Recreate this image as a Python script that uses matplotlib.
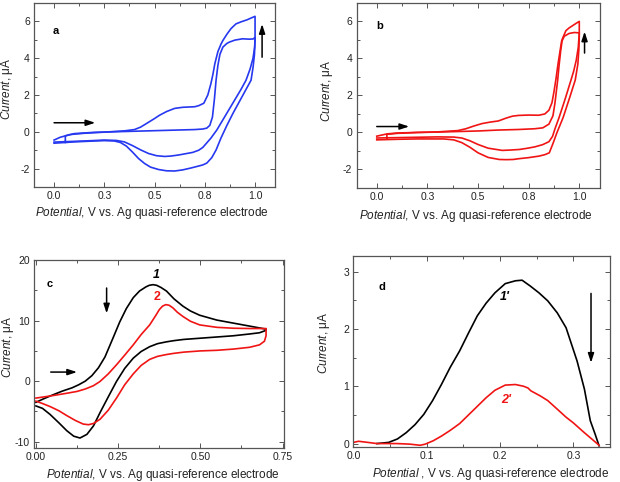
import numpy as np
import matplotlib
matplotlib.use("Agg")
import matplotlib.pyplot as plt
from matplotlib.ticker import MultipleLocator, FixedLocator, FixedFormatter

plt.rcParams['font.family'] = ['Liberation Sans', 'DejaVu Sans']
plt.rcParams['mathtext.fontset'] = 'custom'
plt.rcParams['mathtext.rm'] = 'Liberation Sans'
plt.rcParams['mathtext.it'] = 'Liberation Sans:italic'
plt.rcParams['mathtext.bf'] = 'Liberation Sans:bold'
plt.rcParams['axes.unicode_minus'] = False

# ---- panel a (blue CV, two cycles) ----
a1_v = [0.0, 0.03, 0.08, 0.15, 0.25, 0.35, 0.4, 0.43, 0.46, 0.5, 0.525, 0.56, 0.6, 0.64, 0.7, 0.72,
        0.745, 0.765, 0.78, 0.79, 0.80, 0.815, 0.83, 0.84, 0.86, 0.88, 0.905, 0.93, 0.96, 0.985, 1.0,
        1.0, 0.997, 0.99, 0.98, 0.95, 0.92, 0.89, 0.86, 0.83, 0.806, 0.785, 0.76, 0.74, 0.723, 0.68,
        0.64, 0.6, 0.56, 0.52, 0.48, 0.45, 0.42, 0.39, 0.36, 0.33, 0.3, 0.25, 0.2, 0.1, 0.0]
a1_i = [-0.45, -0.3, -0.15, -0.08, -0.02, 0.05, 0.12, 0.25, 0.45, 0.72, 0.9, 1.1, 1.27, 1.33, 1.36, 1.42,
        1.55, 2.0, 2.6, 3.1, 3.7, 4.35, 4.75, 4.96, 5.3, 5.6, 5.86, 5.97, 6.08, 6.2, 6.27,
        5.0, 4.2, 3.5, 2.8, 2.2, 1.6, 1.0, 0.35, -0.35, -0.99, -1.4, -1.7, -1.8, -1.85, -1.97,
        -2.07, -2.13, -2.12, -2.05, -1.92, -1.72, -1.45, -1.1, -0.78, -0.58, -0.5, -0.48, -0.5, -0.55, -0.62]
a2_v = [0.056, 0.056, 0.1, 0.2, 0.3, 0.4, 0.5, 0.6, 0.7, 0.74, 0.76, 0.775, 0.788, 0.798, 0.806, 0.815,
        0.825, 0.84, 0.86, 0.872, 0.9, 0.938, 0.97, 0.99, 1.0,
        0.998, 0.99, 0.975, 0.955, 0.93, 0.9, 0.87, 0.84, 0.81, 0.78, 0.76, 0.74, 0.72, 0.69, 0.65,
        0.62, 0.58, 0.55, 0.51, 0.47, 0.43, 0.39, 0.35, 0.31, 0.25, 0.15, 0.0]
a2_i = [-0.58, -0.22, -0.1, -0.03, 0.0, 0.03, 0.06, 0.09, 0.12, 0.15, 0.2, 0.35, 0.8, 1.8, 2.8, 3.6,
        4.2, 4.6, 4.8, 4.87, 4.98, 5.05, 5.03, 5.04, 5.12,
        4.6, 4.0, 3.4, 2.8, 2.3, 1.75, 1.2, 0.65, 0.1, -0.35, -0.6, -0.85, -1.0, -1.12, -1.2,
        -1.26, -1.32, -1.34, -1.3, -1.18, -0.98, -0.75, -0.55, -0.47, -0.45, -0.5, -0.56]

# ---- panel b (red CV, two cycles) ----
b1_v = [0.0, 0.05, 0.1, 0.2, 0.3, 0.4, 0.44, 0.48, 0.52, 0.56, 0.6, 0.64, 0.67, 0.7, 0.75, 0.8,
        0.83, 0.85, 0.865, 0.875, 0.885, 0.895, 0.905, 0.913, 0.92, 0.934, 0.95, 0.967, 0.985, 1.0,
        1.0, 0.998, 0.993, 0.98, 0.95, 0.92, 0.89, 0.87, 0.852, 0.83, 0.8, 0.75, 0.7, 0.674, 0.64,
        0.605, 0.55, 0.5, 0.46, 0.42, 0.38, 0.33, 0.2, 0.1, 0.0]
b1_i = [-0.2, -0.08, -0.03, 0.0, 0.03, 0.1, 0.2, 0.35, 0.48, 0.56, 0.62, 0.78, 0.88, 0.92, 0.94, 0.93,
        1.0, 1.2, 1.6, 2.2, 2.9, 3.7, 4.4, 4.95, 5.15, 5.5, 5.65, 5.77, 5.9, 6.0,
        5.2, 4.5, 3.7, 2.83, 1.8, 0.8, 0.0, -0.6, -1.1, -1.2, -1.28, -1.36, -1.42, -1.46, -1.47,
        -1.46, -1.35, -1.1, -0.8, -0.55, -0.4, -0.35, -0.35, -0.37, -0.4]
b2_v = [0.05, 0.05, 0.1, 0.2, 0.3, 0.4, 0.5, 0.6, 0.7, 0.78, 0.82, 0.85, 0.87, 0.88, 0.893, 0.9,
        0.908, 0.915, 0.926, 0.95, 0.975, 1.0,
        0.995, 0.985, 0.972, 0.959, 0.93, 0.9, 0.88, 0.868, 0.85, 0.819, 0.78, 0.74, 0.704, 0.66,
        0.62, 0.55, 0.5, 0.46, 0.42, 0.38, 0.3, 0.2, 0.1, 0.0]
b2_i = [-0.32, -0.1, -0.05, 0.0, 0.02, 0.05, 0.08, 0.13, 0.16, 0.2, 0.25, 0.45, 0.9, 1.6, 2.8, 3.6,
        4.4, 4.95, 5.2, 5.35, 5.4, 5.38,
        4.6, 3.9, 3.3, 2.83, 1.8, 0.8, 0.2, -0.21, -0.5, -0.66, -0.78, -0.86, -0.92, -0.95,
        -0.97, -0.85, -0.65, -0.45, -0.3, -0.25, -0.24, -0.26, -0.28, -0.3]

# ---- panel c (CV, curve 1 black, curve 2 red) ----
c1_v = [0.0, 0.02, 0.05, 0.08, 0.11, 0.13, 0.15, 0.17, 0.19, 0.21, 0.235, 0.255, 0.275, 0.296, 0.315,
        0.335, 0.345, 0.356, 0.367, 0.38, 0.397, 0.42, 0.447, 0.47, 0.498, 0.55, 0.6, 0.65, 0.7,
        0.7, 0.68, 0.65, 0.6, 0.55, 0.5, 0.45, 0.42, 0.397, 0.37, 0.346, 0.32, 0.296, 0.27, 0.245,
        0.22, 0.195, 0.175, 0.155, 0.134, 0.115, 0.094, 0.07, 0.043, 0.02, 0.0]
c1_i = [-3.5, -3.0, -2.3, -1.65, -1.1, -0.6, 0.0, 0.9, 2.2, 4.0, 7.2, 9.8, 12.0, 13.8, 14.9,
        15.6, 15.85, 15.95, 15.85, 15.5, 14.9, 13.6, 12.4, 11.6, 10.9, 10.1, 9.6, 9.1, 8.6,
        8.4, 8.0, 7.8, 7.5, 7.3, 7.1, 6.9, 6.7, 6.5, 6.2, 5.7, 4.9, 3.8, 2.1, -0.05,
        -2.6, -5.2, -7.4, -8.8, -9.4, -9.1, -8.2, -6.9, -5.5, -4.5, -4.1]
c2_v = [0.0, 0.05, 0.094, 0.125, 0.15, 0.175, 0.195, 0.22, 0.245, 0.27, 0.296, 0.32, 0.346, 0.365,
        0.375, 0.385, 0.395, 0.405, 0.417, 0.43, 0.447, 0.47, 0.498, 0.55, 0.6, 0.65, 0.7,
        0.7, 0.695, 0.68, 0.65, 0.6, 0.55, 0.5, 0.45, 0.42, 0.397, 0.37, 0.346, 0.32, 0.296, 0.27,
        0.245, 0.22, 0.195, 0.175, 0.16, 0.144, 0.12, 0.094, 0.07, 0.043, 0.02, 0.0]
c2_i = [-2.8, -2.4, -2.0, -1.7, -1.3, -0.75, -0.05, 1.2, 2.7, 4.3, 6.0, 7.7, 9.3, 10.9,
        11.8, 12.4, 12.65, 12.55, 12.1, 11.4, 10.7, 9.9, 9.3, 8.9, 8.75, 8.7, 8.7,
        7.5, 6.6, 6.0, 5.6, 5.3, 5.1, 5.0, 4.8, 4.6, 4.4, 4.1, 3.6, 2.6, 1.2, -0.6,
        -2.8, -4.8, -6.3, -7.0, -7.2, -7.1, -6.5, -5.7, -4.9, -4.2, -3.7, -3.3]

# ---- panel d (difference curves 1' and 2') ----
d1_v = [0.032, 0.048, 0.06, 0.072, 0.084, 0.096, 0.108, 0.120, 0.132, 0.145, 0.157, 0.169, 0.181,
        0.193, 0.207, 0.221, 0.230, 0.241, 0.253, 0.265, 0.278, 0.290, 0.305, 0.315, 0.323, 0.330, 0.335]
d1_i = [0.0, 0.02, 0.08, 0.19, 0.33, 0.51, 0.75, 1.03, 1.33, 1.62, 1.93, 2.23, 2.45,
        2.63, 2.79, 2.84, 2.85, 2.75, 2.63, 2.49, 2.28, 2.02, 1.44, 0.95, 0.40, 0.15, -0.04]
d2_v = [0.0, 0.007, 0.02, 0.032, 0.045, 0.059, 0.077, 0.091, 0.098, 0.109, 0.120, 0.132, 0.145, 0.157,
        0.169, 0.181, 0.193, 0.207, 0.221, 0.232, 0.238, 0.242, 0.255, 0.265, 0.278, 0.290, 0.300,
        0.314, 0.325, 0.335]
d2_i = [0.02, 0.04, 0.02, 0.0, 0.0, 0.0, -0.01, -0.03, -0.01, 0.05, 0.13, 0.23, 0.35, 0.5,
        0.65, 0.8, 0.93, 1.02, 1.03, 1.0, 0.97, 0.92, 0.83, 0.75, 0.6, 0.46, 0.36,
        0.2, 0.08, -0.03]

BLUE = '#2638f0'
RED = '#f01414'
SPINE = '#555555'

fig = plt.figure(figsize=(6.2, 4.82), dpi=100)
ax_a = fig.add_axes([0.0548, 0.612, 0.389, 0.382])
ax_b = fig.add_axes([0.575, 0.610, 0.392, 0.384])
ax_c = fig.add_axes([0.0553, 0.0712, 0.403, 0.389])
ax_d = fig.add_axes([0.570, 0.0726, 0.414, 0.396])


def style(ax):
    for s in ax.spines.values():
        s.set_color(SPINE)
        s.set_linewidth(0.9)
    ax.tick_params(which='both', direction='in', top=True, right=True, colors=SPINE,
                   labelcolor='#222222', labelsize=7.5, width=0.7)
    ax.tick_params(which='major', length=3.5, pad=3)
    ax.tick_params(which='minor', length=2)


arrow = dict(arrowstyle='-|>,head_length=0.55,head_width=0.18', color='black', lw=1.1,
             shrinkA=0, shrinkB=0)
ylab = r'$\mathit{Current}$, μA'
xlab = r'$\mathit{Potential}$, V vs. Ag quasi-reference electrode'

# a
ax_a.plot(a1_v, a1_i, color=BLUE, lw=1.2)
ax_a.plot(a2_v, a2_i, color=BLUE, lw=1.2)
ax_a.set_xlim(-0.1, 1.1)
ax_a.set_ylim(-3, 7)
ax_a.set_yticks([-2, 0, 2, 4, 6])
ax_a.yaxis.set_minor_locator(MultipleLocator(1))
ax_a.xaxis.set_major_locator(FixedLocator([0, 0.25, 0.5, 0.75, 1.0]))
ax_a.xaxis.set_major_formatter(FixedFormatter(['0.0', '0.3', '0.5', '0.8', '1.0']))
ax_a.xaxis.set_minor_locator(MultipleLocator(0.125))
ax_a.annotate('', xy=(0.205, 0.49), xytext=(0.0, 0.49), arrowprops=arrow)
ax_a.annotate('', xy=(1.035, 5.85), xytext=(1.035, 4.05), arrowprops=arrow)
ax_a.text(-0.005, 5.45, 'a', fontsize=8, fontweight='bold', va='center')

# b
ax_b.plot(b1_v, b1_i, color=RED, lw=1.2)
ax_b.plot(b2_v, b2_i, color=RED, lw=1.2)
ax_b.set_xlim(-0.1, 1.1)
ax_b.set_ylim(-3, 7)
ax_b.set_yticks([-2, 0, 2, 4, 6])
ax_b.yaxis.set_minor_locator(MultipleLocator(1))
ax_b.xaxis.set_major_locator(FixedLocator([0, 0.25, 0.5, 0.75, 1.0]))
ax_b.xaxis.set_major_formatter(FixedFormatter(['0.0', '0.3', '0.5', '0.8', '1.0']))
ax_b.xaxis.set_minor_locator(MultipleLocator(0.125))
ax_b.annotate('', xy=(0.16, 0.32), xytext=(0.0, 0.32), arrowprops=arrow)
ax_b.annotate('', xy=(1.026, 5.45), xytext=(1.026, 4.29), arrowprops=arrow)
ax_b.text(0.0, 5.73, 'b', fontsize=8, fontweight='bold', va='center')

# c
ax_c.plot(c1_v, c1_i, color='black', lw=1.2)
ax_c.plot(c2_v, c2_i, color=RED, lw=1.2)
ax_c.set_xlim(-0.005, 0.755)
ax_c.set_ylim(-11, 20)
ax_c.set_yticks([-10, 0, 10, 20])
ax_c.yaxis.set_minor_locator(MultipleLocator(5))
ax_c.set_xticks([0, 0.25, 0.5, 0.75])
ax_c.xaxis.set_major_formatter(FixedFormatter(['0.00', '0.25', '0.50', '0.75']))
ax_c.xaxis.set_minor_locator(MultipleLocator(0.125))
ax_c.annotate('', xy=(0.125, 1.5), xytext=(0.045, 1.5), arrowprops=arrow)
ax_c.annotate('', xy=(0.215, 11.2), xytext=(0.215, 15.4), arrowprops=arrow)
ax_c.text(0.034, 16.1, 'c', fontsize=8, fontweight='bold', va='center')
ax_c.text(0.366, 17.6, '1', fontsize=9, fontweight='bold', fontstyle='italic', ha='center', va='center')
ax_c.text(0.368, 13.9, '2', fontsize=9, fontweight='bold', color=RED, ha='center', va='center')

# d
ax_d.plot(d1_v, d1_i, color='black', lw=1.2)
ax_d.plot(d2_v, d2_i, color=RED, lw=1.2)
ax_d.set_xlim(0, 0.35)
ax_d.set_ylim(-0.06, 3.27)
ax_d.set_yticks([0, 1, 2, 3])
ax_d.yaxis.set_minor_locator(MultipleLocator(0.5))
ax_d.xaxis.set_major_locator(FixedLocator([0, 0.1, 0.2, 0.3]))
ax_d.xaxis.set_major_formatter(FixedFormatter(['0.0', '0.1', '0.2', '0.3']))
ax_d.xaxis.set_minor_locator(MultipleLocator(0.05))
ax_d.annotate('', xy=(0.324, 1.41), xytext=(0.324, 2.62), arrowprops=arrow)
ax_d.text(0.034, 2.73, 'd', fontsize=8, fontweight='bold', va='center')
ax_d.text(0.207, 2.55, "1'", fontsize=9, fontweight='bold', fontstyle='italic', ha='center', va='center')
ax_d.text(0.209, 0.76, "2'", fontsize=9, fontweight='bold', fontstyle='italic', color=RED,
          ha='center', va='center')

for ax in (ax_a, ax_b, ax_c, ax_d):
    style(ax)
    ax.set_ylabel(ylab, fontsize=8.5, color='#222222')
    ax.set_xlabel(xlab, fontsize=8.5, color='#222222')
ax_d.set_xlabel(r'$\mathit{Potential}$ , V vs. Ag quasi-reference electrode', fontsize=8.5, color='#222222')

ax_a.xaxis.set_label_coords(0.488, -0.10)
ax_b.xaxis.set_label_coords(0.49, -0.108)
ax_c.xaxis.set_label_coords(0.515, -0.105)
ax_d.xaxis.set_label_coords(0.536, -0.10)
ax_a.yaxis.set_label_coords(-0.077, 0.533)
ax_b.yaxis.set_label_coords(-0.089, 0.524)
ax_c.yaxis.set_label_coords(-0.074, 0.536)
ax_d.yaxis.set_label_coords(-0.083, 0.545)

fig.savefig('out.png', dpi=100)
